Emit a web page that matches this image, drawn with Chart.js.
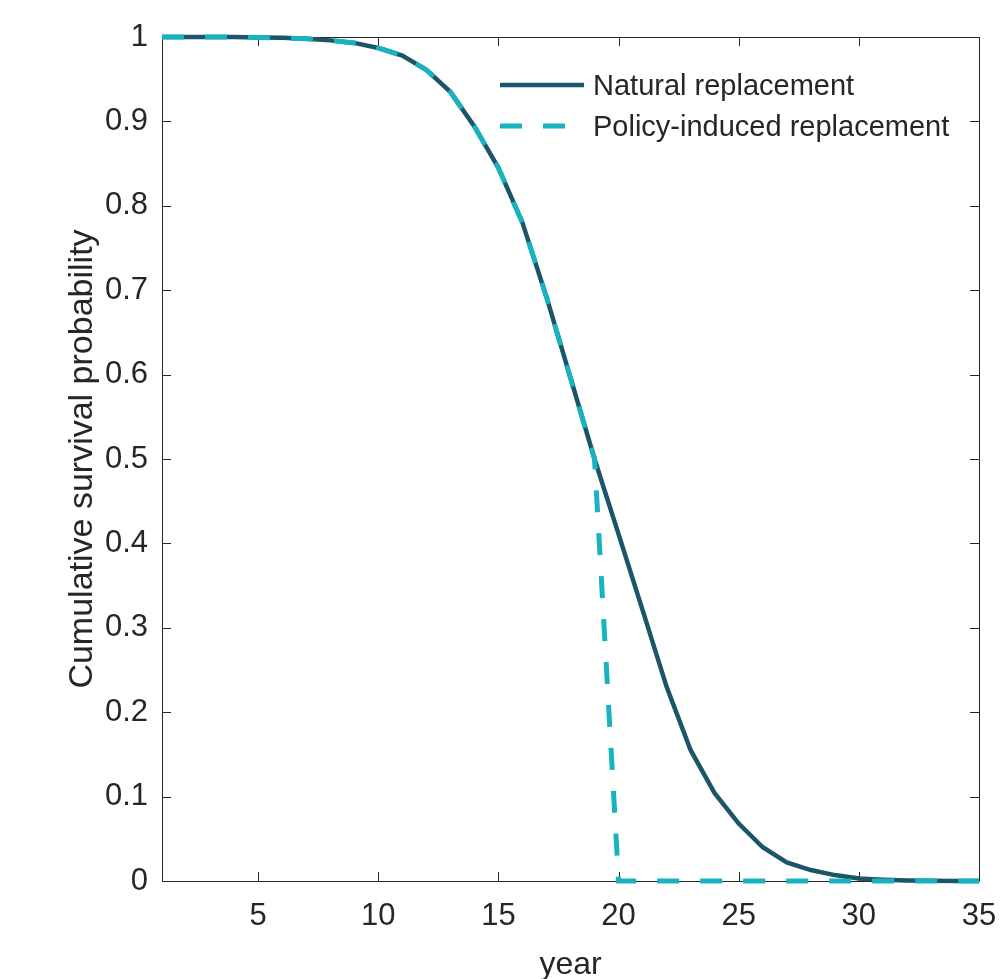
<!DOCTYPE html>
<html>
<head>
<meta charset="utf-8">
<script src="https://cdn.jsdelivr.net/npm/chart.js@4"></script>
<style>
  html, body { margin: 0; padding: 0; background: #fff; }
  #wrap { width: 1001px; height: 979px; }
</style>
</head>
<body>
<div id="wrap"><canvas id="survival-chart" width="1001" height="979"></canvas></div>
<script>
// Jahre und Überlebenswahrscheinlichkeiten
const years = [1, 2, 3, 4, 5, 6, 7, 8, 9, 10, 11, 12, 13, 14, 15, 16, 17, 18,
    19, 20, 21, 22, 23, 24, 25, 26, 27, 28, 29, 30, 31, 32, 33, 34, 35];
const naturalValues = [1, 1, 1, 1, 0.9995, 0.999, 0.998, 0.996, 0.993, 0.987, 0.978, 0.961, 0.935, 0.894,
    0.845, 0.78, 0.692, 0.596, 0.5, 0.411, 0.321, 0.23, 0.155, 0.104, 0.068, 0.04, 0.022,
    0.013, 0.007, 0.003, 0.0015, 0.0006, 0.0002, 0.0001, 0];
const policyValues = [1, 1, 1, 1, 0.9995, 0.999, 0.998, 0.996, 0.993, 0.987, 0.978, 0.961, 0.935, 0.894,
    0.845, 0.78, 0.692, 0.596, 0.5, 0, 0, 0, 0, 0, 0, 0, 0,
    0, 0, 0, 0, 0, 0, 0, 0];
const xTickValues = [5, 10, 15, 20, 25, 30, 35];
const seriesLabels = ['Natural replacement', 'Policy-induced replacement'];

const AXIS_COLOR = '#262626';
const FONT = "'Liberation Sans', Arial, sans-serif";
const NATURAL_COLOR = '#1a5667';
const POLICY_COLOR = '#19b2c0';
const POLICY_DASH = [22, 21];

// Rahmen mit nach innen zeigenden Ticks (wie MATLAB "box on")
const boxPlugin = {
    id: 'boxPlugin',
    beforeDatasetsDraw(chart) {
        const { ctx, chartArea: a, scales: { x, y } } = chart;
        const len = 9;
        ctx.save();
        ctx.strokeStyle = AXIS_COLOR;
        ctx.lineWidth = 1;
        ctx.beginPath();
        ctx.rect(a.left + 0.5, a.top + 0.5, a.right - a.left, a.bottom - a.top);
        x.ticks.forEach(t => {
            const px = Math.round(x.getPixelForValue(t.value)) + 0.5;
            ctx.moveTo(px, a.bottom); ctx.lineTo(px, a.bottom - len);
            ctx.moveTo(px, a.top); ctx.lineTo(px, a.top + len);
        });
        y.ticks.forEach(t => {
            const py = Math.round(y.getPixelForValue(t.value)) + 0.5;
            ctx.moveTo(a.left, py); ctx.lineTo(a.left + len, py);
            ctx.moveTo(a.right, py); ctx.lineTo(a.right - len, py);
        });
        ctx.stroke();
        ctx.restore();
    }
};

// Legende innerhalb der Zeichenfläche, ohne Rahmen
const legendPlugin = {
    id: 'insideLegend',
    afterDraw(chart) {
        const { ctx } = chart;
        const rows = [
            { y: 85, color: NATURAL_COLOR, width: 4.5, dash: [] },
            { y: 126, color: POLICY_COLOR, width: 5, dash: POLICY_DASH }
        ];
        ctx.save();
        rows.forEach((row, i) => {
            ctx.beginPath();
            ctx.setLineDash(row.dash);
            ctx.strokeStyle = row.color;
            ctx.lineWidth = row.width;
            ctx.moveTo(500, row.y);
            ctx.lineTo(584, row.y);
            ctx.stroke();
            ctx.setLineDash([]);
            ctx.fillStyle = AXIS_COLOR;
            ctx.font = `29px ${FONT}`;
            ctx.textBaseline = 'middle';
            ctx.fillText(chart.data.datasets[i].label, 593, row.y + 2);
        });
        ctx.restore();
    }
};

function renderChart() {
    const ctx = document.getElementById('survival-chart').getContext('2d');
    return new Chart(ctx, {
        type: 'line',
        data: {
            labels: years,
            datasets: [{
                label: seriesLabels[0],
                data: years.map((yr, i) => ({ x: yr, y: naturalValues[i] })),
                borderColor: NATURAL_COLOR,
                borderWidth: 4.5,
                pointRadius: 0,
                tension: 0,
                fill: false,
                clip: 8,
                order: 2
            }, {
                label: seriesLabels[1],
                data: years.map((yr, i) => ({ x: yr, y: policyValues[i] })),
                borderColor: POLICY_COLOR,
                borderWidth: 5,
                borderDash: POLICY_DASH,
                pointRadius: 0,
                tension: 0,
                fill: false,
                clip: 8,
                order: 1
            }]
        },
        options: {
            responsive: false,
            animation: false,
            layout: { padding: { left: 0, top: 37, right: 22, bottom: 0 } },
            plugins: {
                legend: { display: false },
                tooltip: { enabled: false }
            },
            scales: {
                x: {
                    type: 'linear',
                    min: 1,
                    max: 35,
                    grid: { display: false, drawTicks: false },
                    border: { display: false },
                    afterBuildTicks: scale => { scale.ticks = xTickValues.map(v => ({ value: v })); },
                    afterFit: scale => {
                        scale.height = 98;
                        scale.paddingLeft = 0;
                        scale.paddingRight = 0;
                    },
                    ticks: {
                        color: AXIS_COLOR,
                        font: { family: FONT, size: 31 },
                        padding: 17,
                        maxRotation: 0
                    },
                    title: {
                        display: true,
                        text: 'year',
                        color: AXIS_COLOR,
                        font: { family: FONT, size: 32, lineHeight: 1 },
                        padding: { top: 0, bottom: -2 }
                    }
                },
                y: {
                    min: 0,
                    max: 1,
                    grid: { display: false, drawTicks: false },
                    border: { display: false },
                    afterFit: scale => {
                        scale.width = 162;
                        scale.paddingTop = 0;
                        scale.paddingBottom = 0;
                    },
                    ticks: {
                        stepSize: 0.1,
                        color: AXIS_COLOR,
                        font: { family: FONT, size: 31 },
                        padding: 14,
                        callback: v => Number(v.toFixed(1)).toString()
                    },
                    title: {
                        display: true,
                        text: 'Cumulative survival probability',
                        color: AXIS_COLOR,
                        font: { family: FONT, size: 34, lineHeight: 1.2 },
                        padding: { top: 62, bottom: 0 }
                    }
                }
            }
        },
        plugins: [boxPlugin, legendPlugin]
    });
}

document.addEventListener('DOMContentLoaded', () => {
    renderChart();
});
</script>
</body>
</html>
